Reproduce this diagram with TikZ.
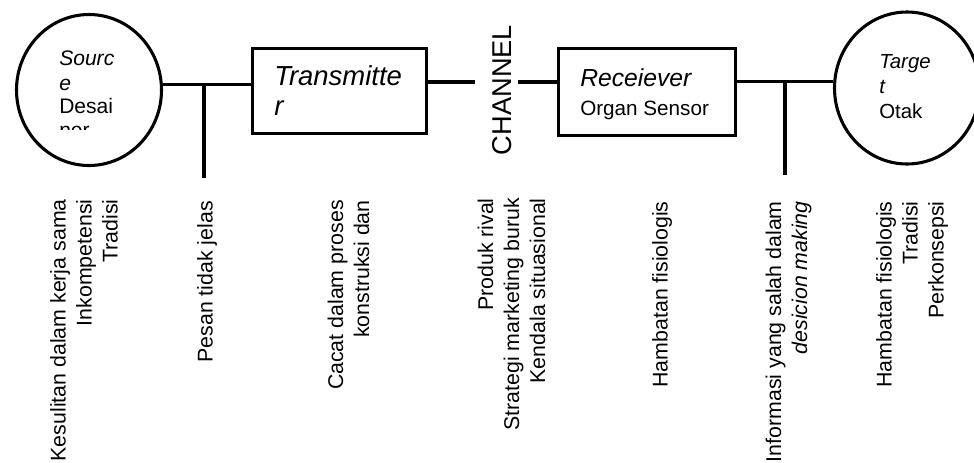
\documentclass[tikz,border=0pt]{standalone}
\usepackage{fontspec}
\setmainfont{Liberation Sans}
\usetikzlibrary{shapes.geometric}
\begin{document}
\begin{tikzpicture}[x=0.75pt,y=-0.75pt,
  wire/.style={line width=2.3pt},
  ring/.style={draw, ellipse, line width=2.3pt, inner sep=0pt},
  blk/.style={draw, rectangle, line width=2.3pt, inner sep=0pt},
  txt/.style={anchor=base west, inner sep=0pt},
  lab/.style={rotate=90, anchor=east, align=right, inner sep=0pt,
    font=\fontsize{16}{19.5}\selectfont}]
\useasboundingbox[fill=white] (0,0) rectangle (974,462);

% main elements
\node[ring, minimum width=108.75pt, minimum height=113.25pt] (src) at (89,90) {};
\node[ring, minimum width=108.75pt, minimum height=114pt] (tgt) at (907,88) {};
\node[blk, minimum width=130.5pt, minimum height=63.75pt] (tx) at (339.5,91) {};
\node[blk, minimum width=132.75pt, minimum height=65.25pt] (rx) at (647,92) {};
\node[rotate=90, inner sep=0pt, font=\fontsize{20.4}{24}\selectfont] (ch) at (502.5,90) {CHANNEL};

% texts in shapes
\node[txt, font=\fontsize{15.8}{18}\selectfont\itshape] (s1) at (59,65) {Sourc};
\node[txt, font=\fontsize{15.8}{18}\selectfont\itshape] (s2) at (59,90) {e};
\node[txt, font=\fontsize{15.8}{18}\selectfont] (s3) at (59,113) {Desai};
\begin{scope}
  \clip (40,100) rectangle (140,129.5);
  \node[txt, font=\fontsize{15.8}{18}\selectfont] (s4) at (59,137) {ner};
\end{scope}
\node[txt, font=\fontsize{15.3}{18}\selectfont\itshape] (t1) at (879,68) {Targe};
\node[txt, font=\fontsize{15.3}{18}\selectfont\itshape] (t2) at (879,93) {t};
\node[txt, font=\fontsize{15.3}{18}\selectfont] (t3) at (879,118) {Otak};
\node[txt, font=\fontsize{20.6}{24}\selectfont\itshape] (x1) at (274,85) {Transmitte};
\node[txt, font=\fontsize{20.6}{24}\selectfont\itshape] (x2) at (274,115) {r};
\node[txt, font=\fontsize{18.5}{22}\selectfont\itshape] (r1) at (580,86) {Receiever};
\node[txt, font=\fontsize{15.5}{18}\selectfont] (r2) at (580,115) {Organ Sensor};

% connectors
\coordinate (c1) at (475,82);
\coordinate (c2) at (518,82);
\coordinate (j1) at (204,84);
\coordinate (e1) at (204,178);
\coordinate (j2) at (785,82);
\coordinate (e2) at (785,175);
\draw[wire] (src.4.6) -- (src.4.6 -| tx.west);
\draw[wire] (j1) -- (e1);
\draw[wire] (tx.east |- c1) -- (c1);
\draw[wire] (c2) -- (c2 -| rx.west);
\draw[wire] (rx.east |- tgt.175.4) -- (tgt.175.4);
\draw[wire] (j2) -- (e2);

% lower labels
\node[lab] (l1) at (84,199) {Kesulitan dalam kerja sama\\Inkompetensi\\Tradisi};
\node[lab] (l2) at (207,201) {Pesan tidak jelas};
\node[lab] (l3) at (348.5,200) {Cacat dalam proses\\konstruksi dan};
\node[lab] (l4) at (511.5,198) {Produk rival\\Strategi marketing buruk\\Kendala situasional};
\node[lab] (l5) at (662,201) {Hambatan fisiologis};
\node[lab] (l6) at (788.5,201) {Informasi yang salah dalam\\\textit{desicion making}};
\node[lab] (l7) at (912,201) {Hambatan fisiologis\\Tradisi\\Perkonsepsi};
\end{tikzpicture}
\end{document}
